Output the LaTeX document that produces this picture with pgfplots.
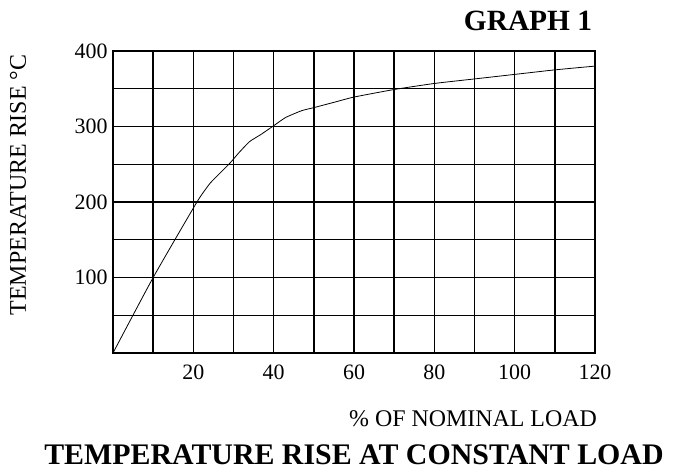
\documentclass[border=0pt]{standalone}
\usepackage{fontspec}
\setmainfont{Liberation Serif}
\usepackage{pgfplots}
\pgfplotsset{compat=1.18}
\begin{document}
\begin{tikzpicture}
\path[use as bounding box] (-113bp,-118bp) rectangle (564bp,353bp);
\begin{axis}[
  scale only axis,
  width=482bp, height=302bp,
  xmin=0, xmax=120, ymin=0, ymax=400,
  xtick={0,10,...,120}, ytick={0,50,...,400},
  xticklabels={,,20,,40,,60,,80,,100,,120},
  yticklabels={,,100,,200,,300,,400},
  major tick length=0pt,
  grid=major,
  major grid style={black, line width=1.4pt},
  axis line style={black, line width=1.4pt},
  /pgf/number format/assume math mode=true,
  ticklabel style={font=\fontsize{22}{24}\selectfont},
  xticklabel style={yshift=-8bp},
  yticklabel style={xshift=-2bp},
  clip=false,
]
\addplot[black, line width=0.8pt, smooth, tension=0.3] coordinates {
(0,0) (10,100) (20.9,200) (24.2,225) (26.6,238) (29.2,252) (31.3,265)
(34,280) (36.7,289) (40,301) (43,312) (47,321) (50,325) (55,332)
(60,339) (70,349) (80,357) (90,363) (100,369) (110,375) (120,380)
};
\end{axis}
\node[font=\bfseries\fontsize{29.5}{32}\selectfont] at (415bp,332bp) {GRAPH 1};
\node[rotate=90, font=\fontsize{24}{26}\selectfont] at (-95bp,168bp) {TEMPERATURE RISE °C};
\node[font=\fontsize{24}{26}\selectfont] at (360bp,-66bp) {\% OF NOMINAL LOAD};
\node[anchor=base, font=\bfseries\fontsize{30}{32}\selectfont, inner sep=0pt] at (241bp,-111bp) {TEMPERATURE RISE AT CONSTANT LOAD};
\end{tikzpicture}
\end{document}
